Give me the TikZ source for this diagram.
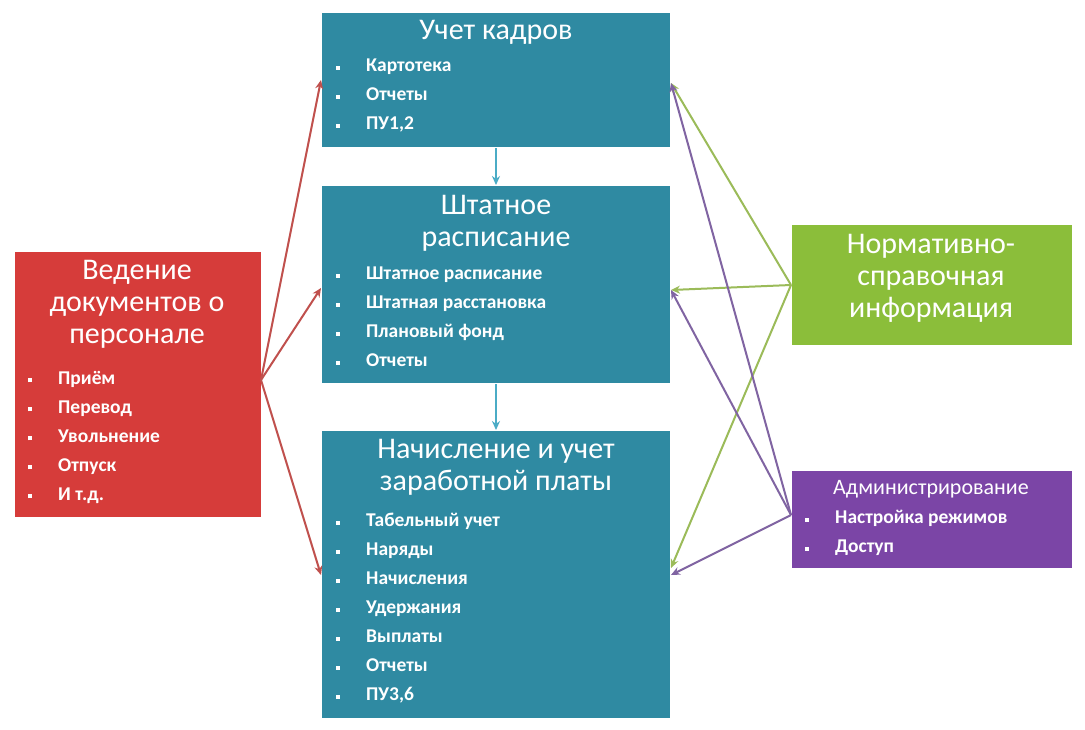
\documentclass[tikz,border=0pt]{standalone}
\usepackage{fontspec}
\setmainfont{Carlito}
\usetikzlibrary{arrows.meta}
\definecolor{tealbox}{HTML}{2F8AA2}
\definecolor{redbox}{HTML}{D63C3A}
\definecolor{greenbox}{HTML}{8BBE3A}
\definecolor{purplebox}{HTML}{7B45A6}
\definecolor{redline}{HTML}{C0504D}
\definecolor{greenline}{HTML}{9BBB59}
\definecolor{purpleline}{HTML}{8064A2}
\definecolor{tealline}{HTML}{4BACC6}
\tikzset{
  box/.style = {draw=white, line width=1pt, anchor=north west, inner sep=0pt},
  ttl/.style = {text=white, font=\fontsize{30}{32}\selectfont, align=center, anchor=north},
  lst/.style = {text=white, font=\bfseries\fontsize{19.5}{29}\selectfont, align=left, anchor=north west, inner sep=0pt},
  link/.style = {-{Stealth[length=9pt,width=8pt]}, line width=2pt}
}
\newcommand{\itm}[1]{\makebox[30pt][l]{\raisebox{2pt}{\rule{4pt}{4pt}}}#1}
\begin{document}
\begin{tikzpicture}[x=1pt, y=-1pt]
\useasboundingbox[fill=white] (0,0) rectangle (1085,729);

% boxes
\node[box, fill=tealbox, minimum width=349pt, minimum height=135pt] (kadr) at (321,12) {};
\node[box, fill=tealbox, minimum width=349pt, minimum height=198pt] (shtat) at (321,185) {};
\node[box, fill=tealbox, minimum width=349pt, minimum height=288pt] (nach) at (321,430) {};
\node[box, fill=redbox, minimum width=247pt, minimum height=266pt] (doc) at (14,251) {};
\node[box, fill=greenbox, minimum width=281pt, minimum height=121pt] (norm) at (791,224) {};
\node[box, fill=purplebox, minimum width=281pt, minimum height=98pt] (adm) at (791,470) {};

% texts
\node[ttl] (kadrT) at (496,17) {Учет кадров};
\node[lst] (kadrL) at (336,59) {\itm{Картотека}\\\itm{Отчеты}\\\itm{ПУ1,2}};
\node[ttl] (shtatT) at (496,192) {Штатное\\расписание};
\node[lst] (shtatL) at (336,267) {\itm{Штатное расписание}\\\itm{Штатная расстановка}\\\itm{Плановый фонд}\\\itm{Отчеты}};
\node[ttl] (nachT) at (496,436) {Начисление и учет\\заработной платы};
\node[lst] (nachL) at (336,513) {\itm{Табельный учет}\\\itm{Наряды}\\\itm{Начисления}\\\itm{Удержания}\\\itm{Выплаты}\\\itm{Отчеты}\\\itm{ПУ3,6}};
\node[ttl] (docT) at (137,257) {Ведение\\документов о\\персонале};
\node[lst] (docL) at (28,371) {\itm{Приём}\\\itm{Перевод}\\\itm{Увольнение}\\\itm{Отпуск}\\\itm{И т.д.}};
\node[ttl] (normT) at (931,231) {Нормативно-\\справочная\\информация};
\node[ttl, font=\fontsize{22}{24}\selectfont] (admT) at (931,477) {Администрирование};
\node[lst] (admL) at (805,510) {\itm{Настройка режимов}\\\itm{Доступ}};

% connectors
\coordinate (docR) at (261,380);
\coordinate (normL) at (791,285);
\coordinate (admL0) at (791,515);
\foreach \t/\yy in {kadr/80, shtat/288, nach/575}
  \draw[link, redline] (docR) -- (\t.west |- 0,\yy);
\foreach \t/\yy in {kadr/83, shtat/290, nach/568}
  \draw[link, greenline] (normL) -- (\t.east |- 0,\yy);
\foreach \t/\yy in {kadr/83, shtat/290, nach/575}
  \draw[link, purpleline] (admL0) -- (\t.east |- 0,\yy);
\draw[link, tealline] (kadr.south -| 496,0) -- (shtat.north -| 496,0);
\draw[link, tealline] (shtat.south -| 496,0) -- (nach.north -| 496,0);
\end{tikzpicture}
\end{document}
